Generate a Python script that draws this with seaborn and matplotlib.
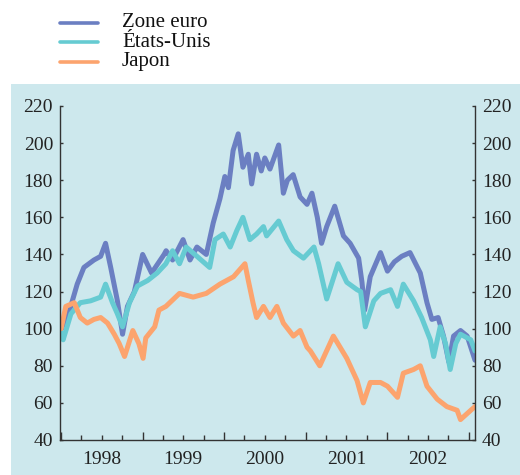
"""
Indices boursiers : zone euro, États-Unis, Japon (base 100 = janvier 1998)
"""

import pandas as pd
import matplotlib
matplotlib.use("Agg")
import matplotlib.pyplot as plt
import matplotlib.dates as mdates
from matplotlib.lines import Line2D
from matplotlib.patches import Rectangle
import seaborn as sns

# Values
euro_dates = [
    "1998-01-01", "1998-02-01", "1998-03-14", "1998-04-13", "1998-05-28", "1998-06-27",
    "1998-07-19", "1998-08-11", "1998-09-10", "1998-10-03", "1998-10-25", "1998-11-25",
    "1999-01-01", "1999-02-10", "1999-04-07", "1999-04-16", "1999-05-15", "1999-07-01",
    "1999-08-01", "1999-09-01", "1999-10-13", "1999-11-13", "1999-12-13", "2000-01-04",
    "2000-01-20", "2000-02-10", "2000-03-04", "2000-03-25", "2000-04-18", "2000-05-03",
    "2000-05-25", "2000-06-15", "2000-07-01", "2000-07-24", "2000-09-01", "2000-09-22",
    "2000-10-10", "2000-11-05", "2000-12-06", "2001-01-06", "2001-01-28", "2001-02-21",
    "2001-03-12", "2001-04-04", "2001-05-10", "2001-06-18", "2001-07-18", "2001-08-25",
    "2001-09-09", "2001-09-21", "2001-10-16", "2001-12-01", "2002-01-01", "2002-02-01",
    "2002-03-06", "2002-04-12", "2002-05-28", "2002-06-27", "2002-07-19", "2002-08-16",
    "2002-09-09", "2002-10-03", "2002-10-24", "2002-11-24", "2002-12-24", "2003-01-28",
]
euro_values = [
    100, 107, 124, 133, 137, 139,
    146, 133, 115, 97, 112, 120,
    140, 130, 140, 142, 137, 148,
    137, 144, 140, 157, 170, 182,
    176, 196, 205, 187, 194, 178,
    194, 185, 192, 186, 199, 173,
    180, 183, 171, 167, 173, 160,
    146, 155, 166, 150, 146, 138,
    125, 110, 128, 141, 131, 136,
    139, 141, 130, 114, 105, 106,
    96, 82, 96, 99, 96, 83,
]

us_dates = [
    "1998-01-01", "1998-01-10", "1998-02-14", "1998-03-28", "1998-05-13", "1998-06-27",
    "1998-07-19", "1998-08-19", "1998-09-10", "1998-10-03", "1998-11-03", "1998-12-09",
    "1999-01-24", "1999-03-07", "1999-04-15", "1999-05-15", "1999-06-15", "1999-07-15",
    "1999-09-01", "1999-10-28", "1999-11-21", "1999-12-28", "2000-01-28", "2000-02-27",
    "2000-03-25", "2000-04-25", "2000-05-25", "2000-06-25", "2000-07-09", "2000-09-01",
    "2000-10-07", "2000-11-06", "2000-12-21", "2001-02-06", "2001-02-27", "2001-04-04",
    "2001-05-25", "2001-07-03", "2001-08-18", "2001-09-03", "2001-09-24", "2001-11-01",
    "2001-12-01", "2002-01-15", "2002-02-15", "2002-03-13", "2002-04-28", "2002-06-03",
    "2002-07-12", "2002-07-27", "2002-08-25", "2002-09-18", "2002-10-09", "2002-11-03",
    "2002-11-24", "2003-01-09", "2003-01-28",
]
us_values = [
    98, 94, 108, 114, 115, 117,
    124, 114, 108, 101, 114, 123,
    126, 130, 135, 142, 135, 144,
    139, 133, 148, 151, 144, 153,
    160, 148, 151, 155, 150, 158,
    148, 142, 138, 144, 135, 116,
    135, 125, 121, 120, 101, 115,
    119, 121, 112, 124, 115, 106,
    94, 85, 101, 92, 78, 92,
    97, 94, 88,
]

jp_dates = [
    "1998-01-01", "1998-01-22", "1998-03-01", "1998-03-28", "1998-04-28", "1998-05-28",
    "1998-06-27", "1998-07-28", "1998-08-27", "1998-09-18", "1998-10-12", "1998-11-18",
    "1998-12-15", "1999-01-03", "1999-01-15", "1999-02-24", "1999-03-15", "1999-04-15",
    "1999-06-15", "1999-08-15", "1999-10-13", "1999-12-13", "2000-02-12", "2000-04-03",
    "2000-04-18", "2000-05-09", "2000-05-25", "2000-06-25", "2000-07-24", "2000-08-24",
    "2000-09-22", "2000-11-06", "2000-12-06", "2001-01-06", "2001-01-21", "2001-03-04",
    "2001-05-04", "2001-07-03", "2001-08-18", "2001-09-15", "2001-10-16", "2001-12-01",
    "2002-01-01", "2002-02-15", "2002-03-13", "2002-04-28", "2002-05-28", "2002-06-27",
    "2002-08-12", "2002-09-24", "2002-11-09", "2002-11-24", "2003-01-09", "2003-01-28",
]
jp_values = [
    100, 112, 114, 106, 103, 105,
    106, 103, 97, 92, 85, 99,
    92, 84, 95, 101, 110, 112,
    119, 117, 119, 124, 128, 135,
    126, 114, 106, 112, 106, 112,
    103, 96, 99, 90, 88, 80,
    96, 84, 72, 60, 71, 71,
    69, 63, 76, 78, 80, 69,
    62, 58, 56, 51, 56, 58,
]

series_names = ["Zone euro", "États-Unis", "Japon"]
series_colors = ["#6b7fc2", "#66cbd2", "#fca46e"]
year_labels = ["1998", "1999", "2000", "2001", "2002"]

BG = "#cde8ed"
AXIS = "#333333"
SERIF = ["Liberation Serif", "DejaVu Serif"]

frames = []
for name, d, v in zip(series_names,
                      [euro_dates, us_dates, jp_dates],
                      [euro_values, us_values, jp_values]):
    frames.append(pd.DataFrame({"date": pd.to_datetime(d), "indice": v, "serie": name}))
df = pd.concat(frames, ignore_index=True)

sns.set_theme(style="ticks")
plt.rcParams["font.family"] = SERIF

W, H = 520, 475
fig = plt.figure(figsize=(W / 100, H / 100), dpi=100)
fig.patch.set_facecolor("white")

# light blue panel behind the chart
fig.add_artist(Rectangle((11 / W, 0), 1, 1 - 84 / H, transform=fig.transFigure,
                         facecolor=BG, edgecolor="none", zorder=-10))

ax = fig.add_axes([60 / W, 35 / H, 415 / W, 334 / H])
ax.set_facecolor(BG)

sns.lineplot(data=df, x="date", y="indice", hue="serie", hue_order=series_names,
             palette=dict(zip(series_names, series_colors)), estimator=None,
             linewidth=3.6, ax=ax, legend=False)

ax.set_xlim(pd.Timestamp("1997-12-27"), pd.Timestamp("2003-01-28"))
ax.set_ylim(40, 220)
ax.set_yticks(range(40, 221, 20))
ax.set_xlabel("")
ax.set_ylabel("")

ax.xaxis.set_major_locator(mdates.YearLocator())
ax.xaxis.set_major_formatter(plt.NullFormatter())
ax.xaxis.set_minor_locator(mdates.MonthLocator(bymonth=[4, 7, 10]))
ax.tick_params(axis="x", which="major", direction="in", length=6, width=1, color=AXIS)
ax.tick_params(axis="x", which="minor", direction="in", length=3.5, width=1, color=AXIS)
ax.tick_params(axis="y", direction="in", length=2.5, width=1, color=AXIS,
               left=True, right=True, labelleft=True, labelright=True,
               labelsize=14, labelcolor="#222222", pad=5)
for lbl in ax.get_yticklabels() + ax.yaxis.get_ticklabels(which="major"):
    lbl.set_fontfamily(SERIF)
for tick in ax.yaxis.get_major_ticks():
    tick.label1.set_fontfamily(SERIF)
    tick.label2.set_fontfamily(SERIF)

for yr in year_labels:
    ax.text(pd.Timestamp(f"{yr}-07-01"), -0.057, yr, transform=ax.get_xaxis_transform(),
            ha="center", va="center", fontsize=14, color="#222222", family=SERIF)

ax.spines["top"].set_visible(False)
for side in ["left", "right", "bottom"]:
    ax.spines[side].set_color(AXIS)
    ax.spines[side].set_linewidth(1)

# legend above the panel
legend_y = [1 - 22.7 / H, 1 - 42.3 / H, 1 - 61.7 / H]
for name, color, ly in zip(series_names, series_colors, legend_y):
    fig.add_artist(Line2D([60 / W, 98 / W], [ly, ly], color=color, linewidth=2.6,
                          transform=fig.transFigure))
    fig.text(122 / W, ly, name, va="center", ha="left", fontsize=15, color="#111111",
             family=SERIF)

plt.savefig("out.png", dpi=100, facecolor="white")
